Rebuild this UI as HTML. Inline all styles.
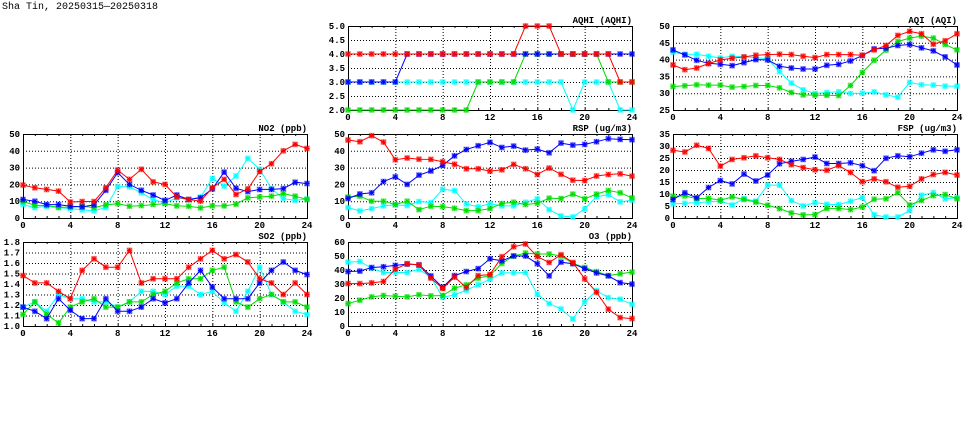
<!DOCTYPE html>
<html><head><meta charset="utf-8"><style>
body{margin:0;background:#fff;width:975px;height:447px;overflow:hidden}
svg{display:block}
text{font-family:"Liberation Mono",monospace;font-weight:bold;font-size:9px;fill:#000}
</style></head><body>
<svg id="chart" width="975" height="447" viewBox="0 0 975 447">
<text x="2" y="9" style="font-size:10px;font-weight:normal">Sha Tin, 20250315—20250318</text>
</svg>
<script>
const hours = [0,1,2,3,4,5,6,7,8,9,10,11,12,13,14,15,16,17,18,19,20,21,22,23,24];
const xTicks = [0,4,8,12,16,20,24];
const seriesColors = ['#00ffff','#00dd00','#0000ff','#ff0000'];
const seriesNames = ['cyan','green','blue','red'];

const aqhiTicks = ['2.0','2.5','3.0','3.5','4.0','4.5','5.0'];
const aqhiCyan = [3,3,3,3,3,3,3,3,3,3,3,3,3,3,3,3,3,3,3,2,3,3,3,2,2];
const aqhiGreen = [2,2,2,2,2,2,2,2,2,2,2,3,3,3,3,4,4,4,4,4,4,4,3,3,3];
const aqhiBlue = [3,3,3,3,3,4,4,4,4,4,4,4,4,4,4,4,4,4,4,4,4,4,4,4,4];
const aqhiRed = [4,4,4,4,4,4,4,4,4,4,4,4,4,4,4,5,5,5,4,4,4,4,4,3,3];

const aqiTicks = ['25','30','35','40','45','50'];
const aqiCyan = [42.2,41.6,41.6,41,40.5,41,40.8,40.6,40.2,36.4,33,31,29.9,30.2,30.4,29.9,30,30.4,29.5,28.8,33.2,32.5,32.4,32.1,32.1];
const aqiGreen = [32,32.2,32.5,32.4,32.4,31.8,32,32.3,32.3,31.6,30.2,29.5,29.4,29.4,29.3,32.3,36.2,39.8,42.8,45.4,46.4,47,46.4,44.5,42.9];
const aqiBlue = [42.9,41.4,39.8,38.9,38.6,38.2,39.1,40,39.9,38,37.5,37.2,37.2,38.3,38.6,39.6,41.2,43.2,43.4,44.2,44.5,43.5,42.6,40.8,38.4];
const aqiRed = [38.4,37,37.5,38.8,39.9,40.4,40.8,41.3,41.5,41.6,41.5,41,40.6,41.5,41.5,41.5,41.3,42.9,44.2,47.2,48.4,47.7,44.6,45.6,47.7];

const no2Ticks = ['0','10','20','30','40','50'];
const no2Cyan = [8,6.2,7,6.2,5.6,4.8,4.2,6.2,18.7,18.5,15,11,8.8,12,11,12.5,23.5,19,25,35.5,29,17.5,11.5,10.5,11.3];
const no2Green = [9.8,7.6,7.4,6.4,6.4,7,6.2,7.8,8.6,7,7.4,8,8.6,7.2,7,6,7.2,7.2,8.2,12,12.5,13,14.5,13,11];
const no2Blue = [11,10,8,8,7,6.6,7.8,16.5,27,20,16.5,13.7,10.5,13.7,11,12,17.3,27.3,17.7,15.7,17,17,17.5,21.3,20.5];
const no2Red = [19.6,18,17,16,9.5,9.8,9.8,18,28.5,23,29,21.5,20,12.5,11,10,18,23,14,17.3,27.7,32.3,40,43.8,41.4];

const rspTicks = ['0','10','20','30','40','50'];
const rspCyan = [6.2,4.2,5.6,7.2,7.8,7.4,9.8,9.2,17.1,16.3,8.4,6.6,8.6,7.2,7.2,9.4,11.4,5,1.2,0.6,5.4,12.7,13.9,9.6,10.6];
const rspGreen = [12.5,13,10,10,8,10,5,7,6.8,5.8,4.4,4.4,5.6,8.6,9.4,8,8.8,11.8,11.6,14.2,11.4,14.2,16.4,15,12];
const rspBlue = [11.6,14.3,15,21.7,24.5,20,25.5,28,31.3,37,40.8,43,45,42,42.8,40.4,41,38.8,44.6,43.4,43.8,45.4,47.2,46.8,46.6];
const rspRed = [46.4,45.4,49,45.2,34.7,35.7,35,34.9,33.5,32,29.3,29.3,27.9,28.7,31.9,29.3,25.9,29.7,26,22.5,22.3,25,25.9,26.3,24.9];

const fspTicks = ['0','5','10','15','20','25','30','35'];
const fspCyan = [5.9,6.1,6.4,6.7,7.1,5.4,8.1,7,13.7,13.7,7.3,5,6.4,5.7,5.6,7,8.5,1.3,0.4,0.4,3.1,9.5,10.6,8,8.5];
const fspGreen = [9.1,9.2,8.1,8.2,7.4,8.8,7.7,6.6,5.3,3.9,2.1,1.3,1.4,4,4,3.5,4.6,7.8,8,10.5,5.4,7.3,9.3,9.8,8];
const fspBlue = [7.7,10.5,8.4,12.7,15.6,14.2,18.3,15.4,17.9,22.6,23.6,24.4,25.4,22.7,22.7,23,21.8,19.7,24.9,25.9,25.5,27,28.4,27.8,28.4];
const fspRed = [28.2,27.5,30.3,29,21.6,24.4,25.1,25.9,25.1,24.4,22.2,21,20.1,19.9,21.8,19,15.1,16.3,15.1,12.8,13.2,16.3,18.1,19,17.9];

const so2Ticks = ['1.0','1.1','1.2','1.3','1.4','1.5','1.6','1.7','1.8'];
const so2Cyan = [1.18,1.23,1.14,1.30,1.26,1.26,1.23,1.23,1.18,1.23,1.33,1.33,1.30,1.38,1.38,1.30,1.33,1.22,1.14,1.33,1.56,1.30,1.23,1.14,1.11];
const so2Green = [1.11,1.23,1.11,1.03,1.18,1.23,1.26,1.18,1.18,1.23,1.23,1.30,1.33,1.41,1.45,1.45,1.53,1.56,1.23,1.18,1.26,1.30,1.23,1.23,1.18];
const so2Blue = [1.18,1.14,1.07,1.26,1.15,1.07,1.07,1.26,1.14,1.14,1.18,1.26,1.22,1.26,1.41,1.53,1.37,1.26,1.26,1.26,1.41,1.53,1.61,1.53,1.49];
const so2Red = [1.48,1.41,1.41,1.33,1.26,1.53,1.64,1.56,1.56,1.72,1.41,1.45,1.45,1.45,1.56,1.64,1.72,1.64,1.68,1.61,1.45,1.41,1.30,1.41,1.30];

const o3Ticks = ['0','10','20','30','40','50','60'];
const o3Cyan = [45.6,46.1,41.3,38.2,38.2,38.2,40.4,34.9,20.5,22.2,25.6,29.4,33.4,37.9,37.9,38.2,22.7,16,12.2,5,17.2,25.3,20.3,19.1,15.5];
const o3Green = [16,18.4,20.8,21.8,21.3,20.8,22.3,21.5,21.8,27,29.4,34.2,36,44.7,50,52.1,51.4,51.4,50,44.7,41.8,38.9,36,37.3,38.5];
const o3Blue = [38.9,39.2,41.8,42.3,43.3,44.2,43.7,35.8,27.5,36,38.9,41,48,46.6,50,50,44.5,35.8,45.6,44.5,41,37.9,35.8,31,29.9];
const o3Red = [30.3,30.3,30.8,31.8,40.6,44.5,43.5,34.2,26.8,34.9,27.5,36,36.8,49.5,56.6,58.6,49.5,45.4,50.9,45.4,33.7,24.1,12,6,5.3];

const NS='http://www.w3.org/2000/svg';
const svg=document.getElementById('chart');
function mk(tag,attrs,parent){const e=document.createElementNS(NS,tag);for(const k in attrs)e.setAttribute(k,attrs[k]);(parent||svg).appendChild(e);return e;}

function panel(key,title,x0,y0,ticks,series){
  const W=284,H=84;
  const g=mk('g',{});
  
  
  const tv=ticks.map(Number), ymin=tv[0], ymax=tv[tv.length-1];
  const xs=h=>x0+h/24*W;
  const ys=v=>y0+H-(v-ymin)/(ymax-ymin)*H;
  tv.forEach((t,i)=>{
    const y=ys(t);
    if(i>0&&i<tv.length-1){const l=mk('line',{x1:x0,x2:x0+W,y1:y+0.5,y2:y+0.5,stroke:'#000','stroke-width':1,'stroke-dasharray':'1,2'},g);
      
      }
    const tx=mk('text',{x:x0-3,y:y+3,'text-anchor':'end'},g);tx.textContent=ticks[i];
    
    
  });
  xTicks.forEach((h,i)=>{
    const x=xs(h);
    if(i>0&&i<xTicks.length-1){const l=mk('line',{x1:x+0.5,x2:x+0.5,y1:y0,y2:y0+H,stroke:'#000','stroke-width':1,'stroke-dasharray':'1,2'},g);
      
      }
    const tx=mk('text',{x:x,y:y0+H+10,'text-anchor':'middle'},g);tx.textContent=h;
    
    
  });
  hours.forEach(h=>{const x=xs(h)+0.5;mk('line',{x1:x,x2:x,y1:y0+H,y2:y0+H-2,stroke:'#000'},g);mk('line',{x1:x,x2:x,y1:y0,y2:y0+2,stroke:'#000'},g);});
  const fr=mk('rect',{x:x0+0.5,y:y0+0.5,width:W,height:H,fill:'none',stroke:'#000','stroke-width':1},g);
  
  
  const tt=mk('text',{x:x0+W,y:y0-3,'text-anchor':'end'},g);tt.textContent=title;
  
  
  series.forEach((vals,si)=>{
    const c=seriesColors[si];
    const sg=mk('g',{},g);
    
    
    const pts=vals.map((v,i)=>xs(hours[i]).toFixed(1)+','+ys(v).toFixed(1)).join(' ');
    const pl=mk('polyline',{points:pts,fill:'none',stroke:c,'stroke-width':1},sg);
    
    
    vals.forEach((v,i)=>{
      const x=xs(hours[i]),y=ys(v);
      const m=mk('g',{},sg);
      
      
      mk('rect',{x:x-2.5,y:y-2.5,width:5,height:5,fill:c,'fill-opacity':0.25,stroke:c,'stroke-opacity':0.4,'stroke-width':0.8},m);
      mk('path',{d:`M${x-2},${y-2}L${x+2},${y+2}M${x-2},${y+2}L${x+2},${y-2}M${x-2.5},${y}L${x+2.5},${y}M${x},${y-2.5}L${x},${y+2.5}`,stroke:c,'stroke-width':1},m);
    });
  });
}
panel('aqhi','AQHI (AQHI)',348,26,aqhiTicks,[aqhiCyan,aqhiGreen,aqhiBlue,aqhiRed]);
panel('aqi','AQI (AQI)',673,26,aqiTicks,[aqiCyan,aqiGreen,aqiBlue,aqiRed]);
panel('no2','NO2 (ppb)',23,134,no2Ticks,[no2Cyan,no2Green,no2Blue,no2Red]);
panel('rsp','RSP (ug/m3)',348,134,rspTicks,[rspCyan,rspGreen,rspBlue,rspRed]);
panel('fsp','FSP (ug/m3)',673,134,fspTicks,[fspCyan,fspGreen,fspBlue,fspRed]);
panel('so2','SO2 (ppb)',23,242,so2Ticks,[so2Cyan,so2Green,so2Blue,so2Red]);
panel('o3','O3 (ppb)',348,242,o3Ticks,[o3Cyan,o3Green,o3Blue,o3Red]);
</script>
</body></html>
